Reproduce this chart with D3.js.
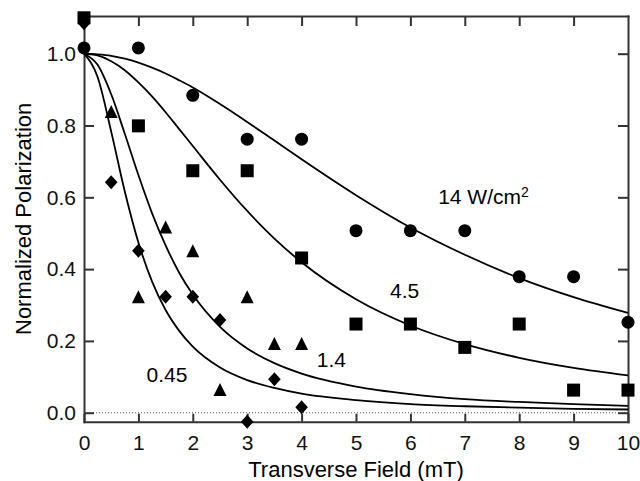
<!DOCTYPE html>
<meta charset="utf-8">
<head>
<style>
  body { margin: 0; background: white; }
  svg { display: block; font-family: "Liberation Sans", Arial, sans-serif; }
  .axis path, .axis line { stroke: #333; stroke-width: 2px; }
  .axis text { font-size: 21px; fill: #111; font-family: "Liberation Sans", Arial, sans-serif; }
</style>
<script src="https://cdn.jsdelivr.net/npm/d3@7"></script>
</head>
<body>
<svg id="chart"></svg>
<script>

let circleX = [0, 1, 2, 3, 4, 5, 6, 7, 8, 9, 10]
let circleY = [1.016, 1.016, 0.884, 0.762, 0.762, 0.507, 0.507, 0.507, 0.379, 0.379, 0.252]

let squareX = [0, 1, 2, 3, 4, 5, 6, 7, 8, 9, 10]
let squareY = [1.10, 0.799, 0.674, 0.674, 0.431, 0.247, 0.247, 0.182, 0.247, 0.063, 0.063]

let triangleX = [0.5, 1, 1.5, 2, 2.5, 3, 3.5, 4]
let triangleY = [0.839, 0.323, 0.517, 0.451, 0.065, 0.323, 0.193, 0.193]

let diamondX = [0, 0.5, 1, 1.5, 2, 2.5, 3, 3.5, 4]
let diamondY = [1.085, 0.642, 0.451, 0.323, 0.323, 0.258, -0.025, 0.093, 0.015]

// fitted curves
let curveX = [0, 0.25, 0.5, 0.75, 1, 1.25, 1.5, 1.75, 2, 2.5, 3, 3.5, 4, 5, 6, 7, 8, 9, 10]
let fit14 = [1, 0.998, 0.994, 0.986, 0.975, 0.961, 0.945, 0.926, 0.906, 0.860, 0.810, 0.758, 0.706, 0.606, 0.516, 0.440, 0.375, 0.322, 0.278]
let fit45 = [1, 0.995, 0.979, 0.954, 0.920, 0.881, 0.837, 0.790, 0.743, 0.649, 0.562, 0.485, 0.419, 0.316, 0.243, 0.191, 0.153, 0.125, 0.104]
let fit14low = [1, 0.969, 0.887, 0.777, 0.662, 0.556, 0.466, 0.390, 0.329, 0.239, 0.179, 0.138, 0.109, 0.073, 0.052, 0.038, 0.030, 0.024, 0.019]
let fit045 = [1, 0.935, 0.783, 0.616, 0.474, 0.366, 0.286, 0.228, 0.184, 0.126, 0.091, 0.069, 0.053, 0.035, 0.024, 0.018, 0.014, 0.011, 0.009]

let xTicks = [0, 1, 2, 3, 4, 5, 6, 7, 8, 9, 10]
let yTicks = [0, 0.2, 0.4, 0.6, 0.8, 1.0]

let labelText = ["14 W/cm", "4.5", "1.4", "0.45"]
let labelX = [6.51, 5.625, 4.28, 1.15]
let labelY = [0.582, 0.32, 0.128, 0.086]

function getConfig() {
    let width = 640, height = 481
    let left = 84, right = 628, top = 16, bottom = 421.7
    let container = d3.select("#chart").attr("width", width).attr("height", height)
    return { width, height, left, right, top, bottom, container }
}

function getScales(config) {
    let xScale = d3.scaleLinear().domain([0, 10]).range([config.left, config.right])
    let yScale = d3.scaleLinear().domain([-0.025, 1.105]).range([config.bottom, config.top])
    return { xScale, yScale }
}

// custom marker shapes (sized to match the figure)
let squareShape = { draw(ctx, s) { let h = s / 2; ctx.rect(-h, -h, s, s) } }
let triShape = { draw(ctx, s) { let h = s / 2; ctx.moveTo(0, -h); ctx.lineTo(h, h); ctx.lineTo(-h, h); ctx.closePath() } }
let diaShape = { draw(ctx, s) { let w = s * 0.45, h = s / 2; ctx.moveTo(0, -h); ctx.lineTo(w, 0); ctx.lineTo(0, h); ctx.lineTo(-w, 0); ctx.closePath() } }
let circShape = { draw(ctx, s) { let r = s / 2; ctx.moveTo(r, 0); ctx.arc(0, 0, r, 0, 2 * Math.PI) } }

function drawAxes(scales, config) {
    let { xScale, yScale } = scales
    let { container, left, right, top, bottom } = config

    // zero reference line
    container.append("line")
        .attr("x1", left).attr("x2", right)
        .attr("y1", yScale(0)).attr("y2", yScale(0))
        .attr("stroke", "#555").attr("stroke-width", 1)
        .attr("stroke-dasharray", "1,2")

    container.append("g").attr("class", "axis")
        .attr("transform", `translate(0,${bottom})`)
        .call(d3.axisBottom(xScale).tickValues(xTicks).tickSizeInner(-8).tickSizeOuter(0).tickPadding(13).tickFormat(d3.format("d")))

    container.append("g").attr("class", "axis")
        .attr("transform", `translate(0,${top})`)
        .call(d3.axisTop(xScale).tickValues(xTicks.slice(1, -1)).tickSizeInner(-10).tickSizeOuter(0).tickFormat(""))

    container.append("g").attr("class", "axis")
        .attr("transform", `translate(${left},0)`)
        .call(d3.axisLeft(yScale).tickValues(yTicks).tickSizeInner(-10).tickSizeOuter(0).tickPadding(8).tickFormat(d3.format(".1f")))

    container.append("g").attr("class", "axis")
        .attr("transform", `translate(${right},0)`)
        .call(d3.axisRight(yScale).tickValues(yTicks).tickSizeInner(-10).tickSizeOuter(0).tickFormat(""))

    container.selectAll(".axis .domain").attr("stroke-linecap", "square")

    container.append("text")
        .attr("x", (left + right) / 2).attr("y", 476.5)
        .attr("text-anchor", "middle")
        .style("font-size", "22px")
        .text("Transverse Field (mT)")

    container.append("text")
        .attr("transform", `translate(30.5,${(top + bottom) / 2}) rotate(-90)`)
        .attr("text-anchor", "middle")
        .style("font-size", "22px")
        .text("Normalized Polarization")
}

function drawCurves(scales, config) {
    let { xScale, yScale } = scales
    let line = d3.line()
        .x((d, i) => xScale(curveX[i]))
        .y(d => yScale(d))
        .curve(d3.curveMonotoneX)

    config.container.selectAll(".fit")
        .data([fit14, fit45, fit14low, fit045])
        .enter().append("path")
        .attr("d", line)
        .attr("fill", "none")
        .attr("stroke", "black")
        .attr("stroke-width", 1.8)
}

function drawMarkers(scales, config) {
    let { xScale, yScale } = scales
    let sets = [
        { xs: diamondX, ys: diamondY, shape: diaShape, size: 14 },
        { xs: triangleX, ys: triangleY, shape: triShape, size: 13 },
        { xs: squareX, ys: squareY, shape: squareShape, size: 13 },
        { xs: circleX, ys: circleY, shape: circShape, size: 13 }
    ]
    sets.forEach(s => {
        config.container.append("g").selectAll("path")
            .data(s.ys)
            .enter().append("path")
            .attr("transform", (d, i) => `translate(${xScale(s.xs[i])},${yScale(d)})`)
            .attr("d", d3.symbol().type(s.shape).size(s.size))
            .attr("fill", "black")
    })
}

function drawLabels(scales, config) {
    let { xScale, yScale } = scales
    let labels = config.container.selectAll(".lbl")
        .data(labelText)
        .enter().append("text")
        .attr("x", (d, i) => xScale(labelX[i]))
        .attr("y", (d, i) => yScale(labelY[i]))
        .style("font-size", "21px")
        .text(d => d)

    // superscript on the power density units
    labels.filter((d, i) => i == 0)
        .append("tspan")
        .attr("dy", -7)
        .style("font-size", "14px")
        .text("2")
}

let config = getConfig()
let scales = getScales(config)
drawAxes(scales, config)
drawCurves(scales, config)
drawMarkers(scales, config)
drawLabels(scales, config)

</script>
</body>
